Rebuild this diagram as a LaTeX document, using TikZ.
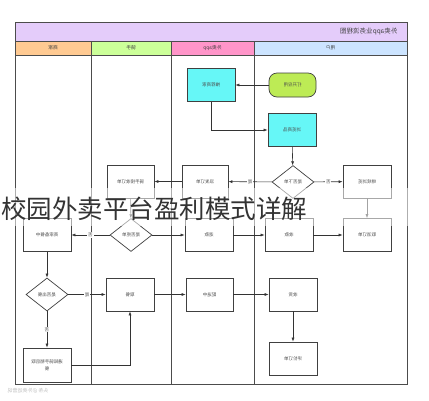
\documentclass[tikz,border=0pt]{standalone}
\usepackage{fontspec}
\setmainfont{Noto Sans CJK SC}
\usepackage{xcolor}
\usepackage{tikz}
\usetikzlibrary{shapes,shapes.geometric,arrows,positioning,calc,arrows.meta}

\definecolor{titlebg}{HTML}{E4CCFA}
\definecolor{shopbg}{HTML}{FFCA92}
\definecolor{riderbg}{HTML}{CCFF99}
\definecolor{appbg}{HTML}{FF95C9}
\definecolor{userbg}{HTML}{CCE4FF}
\definecolor{cyanbox}{HTML}{66F7F7}
\definecolor{startbox}{HTML}{BDEB55}
\newcommand{\flip}[1]{\reflectbox{#1}}

\begin{document}
\begin{tikzpicture}[x=1pt,y=-1pt,
    box/.style={draw=black!75, line width=0.7pt, minimum width=48pt, minimum height=33pt,
      inner sep=1pt, font=\fontsize{4.5}{5.5}\selectfont, text=black!70},
    choice/.style={diamond, draw=black!75, line width=0.7pt, minimum width=42pt,
      minimum height=33pt, inner sep=0pt, font=\fontsize{4.5}{5.5}\selectfont, text=black!70},
    arr/.style={draw=black!80, line width=0.6pt, -{Latex[length=4pt,width=3pt]}},
    lab/.style={fill=white, inner sep=0.8pt, font=\fontsize{4.5}{5}\selectfont, text=black!70},
    head/.style={font=\fontsize{4.8}{5.5}\selectfont, text=black!75}]
    \useasboundingbox (0,0) rectangle (429,400);
    \fill[white] (0,0) rectangle (429,400);

    % swimlanes
    \fill[titlebg] (15,22) rectangle (407,41);
    \fill[shopbg] (15,41) rectangle (91,55);
    \fill[riderbg] (91,41) rectangle (171,55);
    \fill[appbg] (171,41) rectangle (254,55);
    \fill[userbg] (254,41) rectangle (407,55);
    \draw[black!70, line width=0.8pt] (15,22) rectangle (407,384);
    \draw[black!70, line width=0.6pt] (15,41) -- (407,41) (15,55) -- (407,55);
    \foreach \x in {91,171,254}
        \draw[black!70, line width=0.8pt] (\x,41) -- (\x,384);
    \node[anchor=east, font=\fontsize{6.5}{7}\selectfont, text=black!75] (title) at (401,32) {\flip{外卖app业务流程图}};
    \node[head] (hshop) at (53,48) {\flip{商家}};
    \node[head] (hrider) at (131,48) {\flip{骑手}};
    \node[head] (happ) at (212.5,48) {\flip{外卖app}};
    \node[head] (huser) at (330.5,48) {\flip{用户}};

    % nodes
    \node[box, rounded corners=8pt, fill=startbox, minimum width=47pt, minimum height=24pt] (open) at (292.5,85) {\flip{打开应用}};
    \node[box, fill=cyanbox] (recommend) at (211,85) {\flip{推荐商家}};
    \node[box, fill=cyanbox] (browse) at (292,130) {\flip{浏览商品}};
    \node[choice] (orderq) at (293,182) {\flip{是否下单}};
    \node[box] (goon) at (367,181.5) {\flip{继续浏览}};
    \node[box] (cancel) at (367,235) {\flip{取消订单}};
    \node[box, minimum width=46pt] (dispatch) at (205,181.5) {\flip{派发订单}};
    \node[box, minimum width=47pt] (accept) at (130.5,181.5) {\flip{骑手接收订单}};
    \node[choice] (rejectq) at (131,235) {\flip{是否拒单}};
    \node[box] (prepare) at (47,235) {\flip{商家备餐中}};
    \node[box] (refund) at (209,235) {\flip{退款}};
    \node[box] (paid) at (289,235) {\flip{收款}};
    \node[choice] (readyq) at (47,294.5) {\flip{是否出餐}};
    \node[box] (pickup) at (130,294.5) {\flip{取餐}};
    \node[box, minimum width=47pt] (deliver) at (209.5,294.5) {\flip{配送中}};
    \node[box] (receive) at (293,294.5) {\flip{收货}};
    \node[box] (review) at (293,358.5) {\flip{评价订单}};
    \node[box, minimum height=34pt] (notify) at (47,365) {\flip{\shortstack{通知骑手稍后取\\餐}}};

    % connectors
    \draw[arr] (open) -- (recommend);
    \draw[arr] (recommend) |- (browse);
    \draw[arr] (browse) -- (orderq);
    \draw[arr] (orderq) -- node[lab] {\flip{是}} (dispatch);
    \draw[arr] (orderq) -- node[lab] {\flip{否}} (goon);
    \draw[arr] (goon) -- (cancel);
    \draw[arr] (dispatch) -- (accept);
    \draw[arr] (accept) -- (rejectq);
    \draw[arr] (rejectq) -- node[lab] {\flip{否}} (prepare);
    \draw[arr] (rejectq) -- (refund);
    \draw[arr] (refund) -- (paid);
    \draw[arr] (paid) -- (cancel);
    \draw[arr] (prepare) -- (readyq);
    \draw[arr] (readyq) -- node[lab] {\flip{是}} (pickup);
    \draw[arr] (readyq) -- node[lab] {\flip{否}} (notify);
    \draw[arr] (notify.east) -| (pickup.south);
    \draw[arr] (pickup) -- (deliver);
    \draw[arr] (deliver) -- (receive);
    \draw[arr] (receive) -- (review);

    % watermark and caption over the chart
    \node[anchor=west, font=\fontsize{5}{6}\selectfont, text=black!25] (mark) at (4,391) {\flip{头条 @外卖运营说}};
    \fill[white, fill opacity=0.55] (0,188) rectangle (429,226);
    \node[anchor=west, inner sep=0pt, font=\fontsize{25.5}{27}\selectfont, text=black!80] (caption) at (1,209) {校园外卖平台盈利模式详解};
\end{tikzpicture}
\end{document}
